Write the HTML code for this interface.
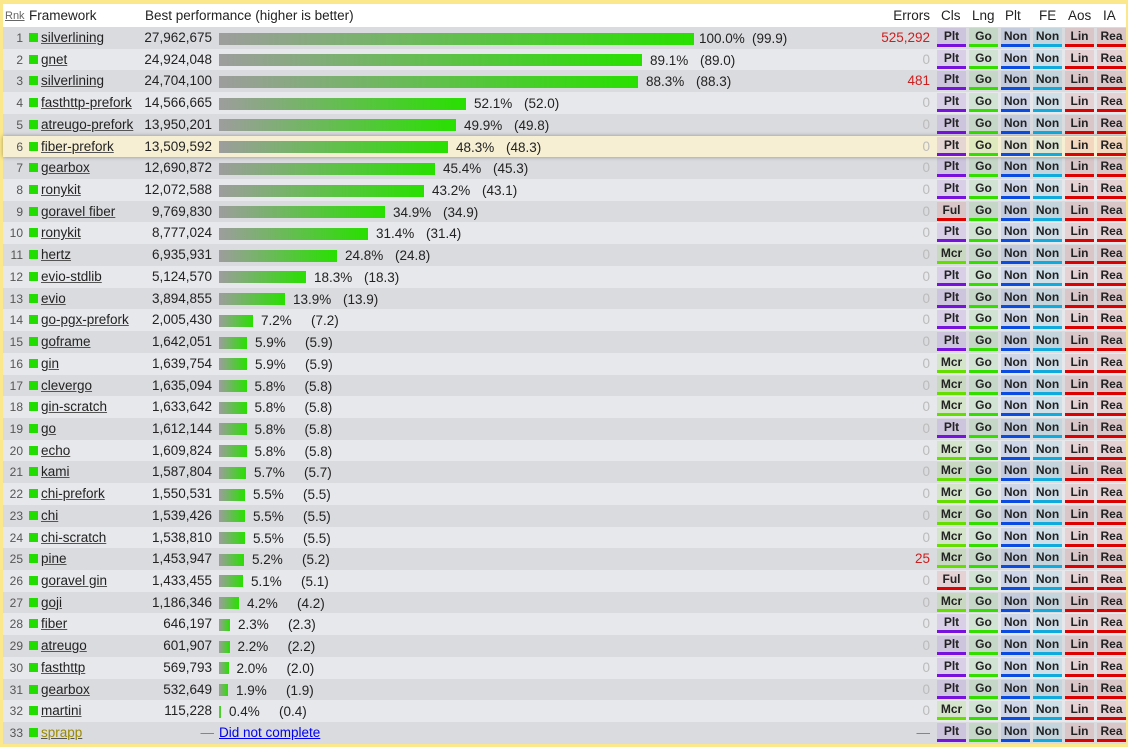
<!DOCTYPE html>
<html><head><meta charset="utf-8"><style>
*{margin:0;padding:0;box-sizing:border-box}
html,body{width:1128px;height:747px;overflow:hidden;background:#fbe88c}
body{font-family:"Liberation Sans",sans-serif;font-size:13.5px;color:#222}
#wrap{position:absolute;left:3px;top:4px;width:1123px;height:740px;background:#e6e7ea}
#hdr{position:absolute;left:0;top:0;width:1123px;height:23px;background:#fff}
#hdr span{position:absolute;top:4px;white-space:nowrap}
#rows{position:absolute;left:0;top:23px;width:1123px}
.r{position:relative;height:21.72px;background:#e7e8eb}
.r:nth-child(odd){background:#dadbde}
.r.hl{background:#f6efd3;box-shadow:0 0 4px rgba(0,0,0,.35);z-index:2}
.r>*{position:absolute;white-space:nowrap}
.k{right:1103px;top:4px;font-size:12px;color:#555}
.q{left:26px;top:6px;width:9px;height:9px;background:#22dd00}
.n{left:38px;top:3px;text-decoration:underline;text-decoration-color:#555}
.v{right:914px;top:3px}
.b{left:216px;top:4px;display:flex;align-items:center}
.b i{display:block;height:12px;background:linear-gradient(to right,#9d9d9d,#28e000)}
.b em{font-style:normal;display:inline-block;width:50px;margin-left:8px}
.e{right:196px;top:3px;color:#bbb}
.e.red{color:#cc1f1f}
.g{top:1px;width:29px;height:19px;font-size:12px;font-weight:bold;text-align:center;line-height:16px;border-bottom:3px solid}
.c1{left:934px}.c2{left:966px}.c3{left:998px}.c4{left:1030px}.c5{left:1062px}.c6{left:1094px}
.P{background:rgba(120,50,220,.13);border-color:#7712dd}
.M{background:rgba(90,210,0,.13);border-color:#66dd00}
.F{background:rgba(220,20,20,.1);border-color:#e00000}
.G{background:rgba(50,200,30,.12);border-color:#33dd00}
.N{background:rgba(20,70,220,.11);border-color:#0b4be0}
.E{background:rgba(20,160,220,.11);border-color:#11aadd}
.L{background:rgba(220,20,20,.1);border-color:#dd0000}
</style></head><body><div id="wrap">
<div id="hdr">
<span style="left:2px;top:6px;font-size:11px;color:#666;text-decoration:underline">Rnk</span>
<span style="left:26px">Framework</span>
<span style="left:142px">Best performance (higher is better)</span>
<span style="right:196px">Errors</span>
<span style="left:938px">Cls</span><span style="left:969px">Lng</span><span style="left:1002px">Plt</span><span style="left:1036px">FE</span><span style="left:1065px">Aos</span><span style="left:1100px">IA</span>
</div>
<div id="rows">
<div class="r"><span class="k">1</span><i class="q"></i><span class="n">silverlining</span><span class="v">27,962,675</span><span class="b"><i style="width:475px"></i><em style="margin-left:5px;width:53px">100.0%</em>(99.9)</span><span class="e red">525,292</span><span class="g c1 P">Plt</span><span class="g c2 G">Go</span><span class="g c3 N">Non</span><span class="g c4 E">Non</span><span class="g c5 L">Lin</span><span class="g c6 L">Rea</span></div>
<div class="r"><span class="k">2</span><i class="q"></i><span class="n">gnet</span><span class="v">24,924,048</span><span class="b"><i style="width:423px"></i><em>89.1%</em>(89.0)</span><span class="e">0</span><span class="g c1 P">Plt</span><span class="g c2 G">Go</span><span class="g c3 N">Non</span><span class="g c4 E">Non</span><span class="g c5 L">Lin</span><span class="g c6 L">Rea</span></div>
<div class="r"><span class="k">3</span><i class="q"></i><span class="n">silverlining</span><span class="v">24,704,100</span><span class="b"><i style="width:419px"></i><em>88.3%</em>(88.3)</span><span class="e red">481</span><span class="g c1 P">Plt</span><span class="g c2 G">Go</span><span class="g c3 N">Non</span><span class="g c4 E">Non</span><span class="g c5 L">Lin</span><span class="g c6 L">Rea</span></div>
<div class="r"><span class="k">4</span><i class="q"></i><span class="n">fasthttp-prefork</span><span class="v">14,566,665</span><span class="b"><i style="width:247px"></i><em>52.1%</em>(52.0)</span><span class="e">0</span><span class="g c1 P">Plt</span><span class="g c2 G">Go</span><span class="g c3 N">Non</span><span class="g c4 E">Non</span><span class="g c5 L">Lin</span><span class="g c6 L">Rea</span></div>
<div class="r"><span class="k">5</span><i class="q"></i><span class="n">atreugo-prefork</span><span class="v">13,950,201</span><span class="b"><i style="width:237px"></i><em>49.9%</em>(49.8)</span><span class="e">0</span><span class="g c1 P">Plt</span><span class="g c2 G">Go</span><span class="g c3 N">Non</span><span class="g c4 E">Non</span><span class="g c5 L">Lin</span><span class="g c6 L">Rea</span></div>
<div class="r hl"><span class="k">6</span><i class="q"></i><span class="n">fiber-prefork</span><span class="v">13,509,592</span><span class="b"><i style="width:229px"></i><em>48.3%</em>(48.3)</span><span class="e">0</span><span class="g c1 P">Plt</span><span class="g c2 G">Go</span><span class="g c3 N">Non</span><span class="g c4 E">Non</span><span class="g c5 L">Lin</span><span class="g c6 L">Rea</span></div>
<div class="r"><span class="k">7</span><i class="q"></i><span class="n">gearbox</span><span class="v">12,690,872</span><span class="b"><i style="width:216px"></i><em>45.4%</em>(45.3)</span><span class="e">0</span><span class="g c1 P">Plt</span><span class="g c2 G">Go</span><span class="g c3 N">Non</span><span class="g c4 E">Non</span><span class="g c5 L">Lin</span><span class="g c6 L">Rea</span></div>
<div class="r"><span class="k">8</span><i class="q"></i><span class="n">ronykit</span><span class="v">12,072,588</span><span class="b"><i style="width:205px"></i><em>43.2%</em>(43.1)</span><span class="e">0</span><span class="g c1 P">Plt</span><span class="g c2 G">Go</span><span class="g c3 N">Non</span><span class="g c4 E">Non</span><span class="g c5 L">Lin</span><span class="g c6 L">Rea</span></div>
<div class="r"><span class="k">9</span><i class="q"></i><span class="n">goravel fiber</span><span class="v">9,769,830</span><span class="b"><i style="width:166px"></i><em>34.9%</em>(34.9)</span><span class="e">0</span><span class="g c1 F">Ful</span><span class="g c2 G">Go</span><span class="g c3 N">Non</span><span class="g c4 E">Non</span><span class="g c5 L">Lin</span><span class="g c6 L">Rea</span></div>
<div class="r"><span class="k">10</span><i class="q"></i><span class="n">ronykit</span><span class="v">8,777,024</span><span class="b"><i style="width:149px"></i><em>31.4%</em>(31.4)</span><span class="e">0</span><span class="g c1 P">Plt</span><span class="g c2 G">Go</span><span class="g c3 N">Non</span><span class="g c4 E">Non</span><span class="g c5 L">Lin</span><span class="g c6 L">Rea</span></div>
<div class="r"><span class="k">11</span><i class="q"></i><span class="n">hertz</span><span class="v">6,935,931</span><span class="b"><i style="width:118px"></i><em>24.8%</em>(24.8)</span><span class="e">0</span><span class="g c1 M">Mcr</span><span class="g c2 G">Go</span><span class="g c3 N">Non</span><span class="g c4 E">Non</span><span class="g c5 L">Lin</span><span class="g c6 L">Rea</span></div>
<div class="r"><span class="k">12</span><i class="q"></i><span class="n">evio-stdlib</span><span class="v">5,124,570</span><span class="b"><i style="width:87px"></i><em>18.3%</em>(18.3)</span><span class="e">0</span><span class="g c1 P">Plt</span><span class="g c2 G">Go</span><span class="g c3 N">Non</span><span class="g c4 E">Non</span><span class="g c5 L">Lin</span><span class="g c6 L">Rea</span></div>
<div class="r"><span class="k">13</span><i class="q"></i><span class="n">evio</span><span class="v">3,894,855</span><span class="b"><i style="width:66px"></i><em>13.9%</em>(13.9)</span><span class="e">0</span><span class="g c1 P">Plt</span><span class="g c2 G">Go</span><span class="g c3 N">Non</span><span class="g c4 E">Non</span><span class="g c5 L">Lin</span><span class="g c6 L">Rea</span></div>
<div class="r"><span class="k">14</span><i class="q"></i><span class="n">go-pgx-prefork</span><span class="v">2,005,430</span><span class="b"><i style="width:34px"></i><em>7.2%</em>(7.2)</span><span class="e">0</span><span class="g c1 P">Plt</span><span class="g c2 G">Go</span><span class="g c3 N">Non</span><span class="g c4 E">Non</span><span class="g c5 L">Lin</span><span class="g c6 L">Rea</span></div>
<div class="r"><span class="k">15</span><i class="q"></i><span class="n">goframe</span><span class="v">1,642,051</span><span class="b"><i style="width:28px"></i><em>5.9%</em>(5.9)</span><span class="e">0</span><span class="g c1 P">Plt</span><span class="g c2 G">Go</span><span class="g c3 N">Non</span><span class="g c4 E">Non</span><span class="g c5 L">Lin</span><span class="g c6 L">Rea</span></div>
<div class="r"><span class="k">16</span><i class="q"></i><span class="n">gin</span><span class="v">1,639,754</span><span class="b"><i style="width:28px"></i><em>5.9%</em>(5.9)</span><span class="e">0</span><span class="g c1 M">Mcr</span><span class="g c2 G">Go</span><span class="g c3 N">Non</span><span class="g c4 E">Non</span><span class="g c5 L">Lin</span><span class="g c6 L">Rea</span></div>
<div class="r"><span class="k">17</span><i class="q"></i><span class="n">clevergo</span><span class="v">1,635,094</span><span class="b"><i style="width:27.5px"></i><em>5.8%</em>(5.8)</span><span class="e">0</span><span class="g c1 M">Mcr</span><span class="g c2 G">Go</span><span class="g c3 N">Non</span><span class="g c4 E">Non</span><span class="g c5 L">Lin</span><span class="g c6 L">Rea</span></div>
<div class="r"><span class="k">18</span><i class="q"></i><span class="n">gin-scratch</span><span class="v">1,633,642</span><span class="b"><i style="width:27.5px"></i><em>5.8%</em>(5.8)</span><span class="e">0</span><span class="g c1 M">Mcr</span><span class="g c2 G">Go</span><span class="g c3 N">Non</span><span class="g c4 E">Non</span><span class="g c5 L">Lin</span><span class="g c6 L">Rea</span></div>
<div class="r"><span class="k">19</span><i class="q"></i><span class="n">go</span><span class="v">1,612,144</span><span class="b"><i style="width:27.5px"></i><em>5.8%</em>(5.8)</span><span class="e">0</span><span class="g c1 P">Plt</span><span class="g c2 G">Go</span><span class="g c3 N">Non</span><span class="g c4 E">Non</span><span class="g c5 L">Lin</span><span class="g c6 L">Rea</span></div>
<div class="r"><span class="k">20</span><i class="q"></i><span class="n">echo</span><span class="v">1,609,824</span><span class="b"><i style="width:27.5px"></i><em>5.8%</em>(5.8)</span><span class="e">0</span><span class="g c1 M">Mcr</span><span class="g c2 G">Go</span><span class="g c3 N">Non</span><span class="g c4 E">Non</span><span class="g c5 L">Lin</span><span class="g c6 L">Rea</span></div>
<div class="r"><span class="k">21</span><i class="q"></i><span class="n">kami</span><span class="v">1,587,804</span><span class="b"><i style="width:27px"></i><em>5.7%</em>(5.7)</span><span class="e">0</span><span class="g c1 M">Mcr</span><span class="g c2 G">Go</span><span class="g c3 N">Non</span><span class="g c4 E">Non</span><span class="g c5 L">Lin</span><span class="g c6 L">Rea</span></div>
<div class="r"><span class="k">22</span><i class="q"></i><span class="n">chi-prefork</span><span class="v">1,550,531</span><span class="b"><i style="width:26px"></i><em>5.5%</em>(5.5)</span><span class="e">0</span><span class="g c1 M">Mcr</span><span class="g c2 G">Go</span><span class="g c3 N">Non</span><span class="g c4 E">Non</span><span class="g c5 L">Lin</span><span class="g c6 L">Rea</span></div>
<div class="r"><span class="k">23</span><i class="q"></i><span class="n">chi</span><span class="v">1,539,426</span><span class="b"><i style="width:26px"></i><em>5.5%</em>(5.5)</span><span class="e">0</span><span class="g c1 M">Mcr</span><span class="g c2 G">Go</span><span class="g c3 N">Non</span><span class="g c4 E">Non</span><span class="g c5 L">Lin</span><span class="g c6 L">Rea</span></div>
<div class="r"><span class="k">24</span><i class="q"></i><span class="n">chi-scratch</span><span class="v">1,538,810</span><span class="b"><i style="width:26px"></i><em>5.5%</em>(5.5)</span><span class="e">0</span><span class="g c1 M">Mcr</span><span class="g c2 G">Go</span><span class="g c3 N">Non</span><span class="g c4 E">Non</span><span class="g c5 L">Lin</span><span class="g c6 L">Rea</span></div>
<div class="r"><span class="k">25</span><i class="q"></i><span class="n">pine</span><span class="v">1,453,947</span><span class="b"><i style="width:25px"></i><em>5.2%</em>(5.2)</span><span class="e red">25</span><span class="g c1 M">Mcr</span><span class="g c2 G">Go</span><span class="g c3 N">Non</span><span class="g c4 E">Non</span><span class="g c5 L">Lin</span><span class="g c6 L">Rea</span></div>
<div class="r"><span class="k">26</span><i class="q"></i><span class="n">goravel gin</span><span class="v">1,433,455</span><span class="b"><i style="width:24px"></i><em>5.1%</em>(5.1)</span><span class="e">0</span><span class="g c1 F">Ful</span><span class="g c2 G">Go</span><span class="g c3 N">Non</span><span class="g c4 E">Non</span><span class="g c5 L">Lin</span><span class="g c6 L">Rea</span></div>
<div class="r"><span class="k">27</span><i class="q"></i><span class="n">goji</span><span class="v">1,186,346</span><span class="b"><i style="width:20px"></i><em>4.2%</em>(4.2)</span><span class="e">0</span><span class="g c1 M">Mcr</span><span class="g c2 G">Go</span><span class="g c3 N">Non</span><span class="g c4 E">Non</span><span class="g c5 L">Lin</span><span class="g c6 L">Rea</span></div>
<div class="r"><span class="k">28</span><i class="q"></i><span class="n">fiber</span><span class="v">646,197</span><span class="b"><i style="width:11px"></i><em>2.3%</em>(2.3)</span><span class="e">0</span><span class="g c1 P">Plt</span><span class="g c2 G">Go</span><span class="g c3 N">Non</span><span class="g c4 E">Non</span><span class="g c5 L">Lin</span><span class="g c6 L">Rea</span></div>
<div class="r"><span class="k">29</span><i class="q"></i><span class="n">atreugo</span><span class="v">601,907</span><span class="b"><i style="width:10.5px"></i><em>2.2%</em>(2.2)</span><span class="e">0</span><span class="g c1 P">Plt</span><span class="g c2 G">Go</span><span class="g c3 N">Non</span><span class="g c4 E">Non</span><span class="g c5 L">Lin</span><span class="g c6 L">Rea</span></div>
<div class="r"><span class="k">30</span><i class="q"></i><span class="n">fasthttp</span><span class="v">569,793</span><span class="b"><i style="width:9.5px"></i><em>2.0%</em>(2.0)</span><span class="e">0</span><span class="g c1 P">Plt</span><span class="g c2 G">Go</span><span class="g c3 N">Non</span><span class="g c4 E">Non</span><span class="g c5 L">Lin</span><span class="g c6 L">Rea</span></div>
<div class="r"><span class="k">31</span><i class="q"></i><span class="n">gearbox</span><span class="v">532,649</span><span class="b"><i style="width:9px"></i><em>1.9%</em>(1.9)</span><span class="e">0</span><span class="g c1 P">Plt</span><span class="g c2 G">Go</span><span class="g c3 N">Non</span><span class="g c4 E">Non</span><span class="g c5 L">Lin</span><span class="g c6 L">Rea</span></div>
<div class="r"><span class="k">32</span><i class="q"></i><span class="n">martini</span><span class="v">115,228</span><span class="b"><i style="width:2px"></i><em>0.4%</em>(0.4)</span><span class="e">0</span><span class="g c1 M">Mcr</span><span class="g c2 G">Go</span><span class="g c3 N">Non</span><span class="g c4 E">Non</span><span class="g c5 L">Lin</span><span class="g c6 L">Rea</span></div>
<div class="r"><span class="k">33</span><i class="q"></i><span class="n" style="color:#9a8a00">sprapp</span><span class="v" style="color:#9a8a00;right:912px">—</span><span class="b" style="left:216px;top:3px;color:#0000ee;text-decoration:underline">Did not complete</span><span class="e" style="color:#9a8a00">—</span><span class="g c1 P">Plt</span><span class="g c2 G">Go</span><span class="g c3 N">Non</span><span class="g c4 E">Non</span><span class="g c5 L">Lin</span><span class="g c6 L">Rea</span></div>
</div></div></body></html>
